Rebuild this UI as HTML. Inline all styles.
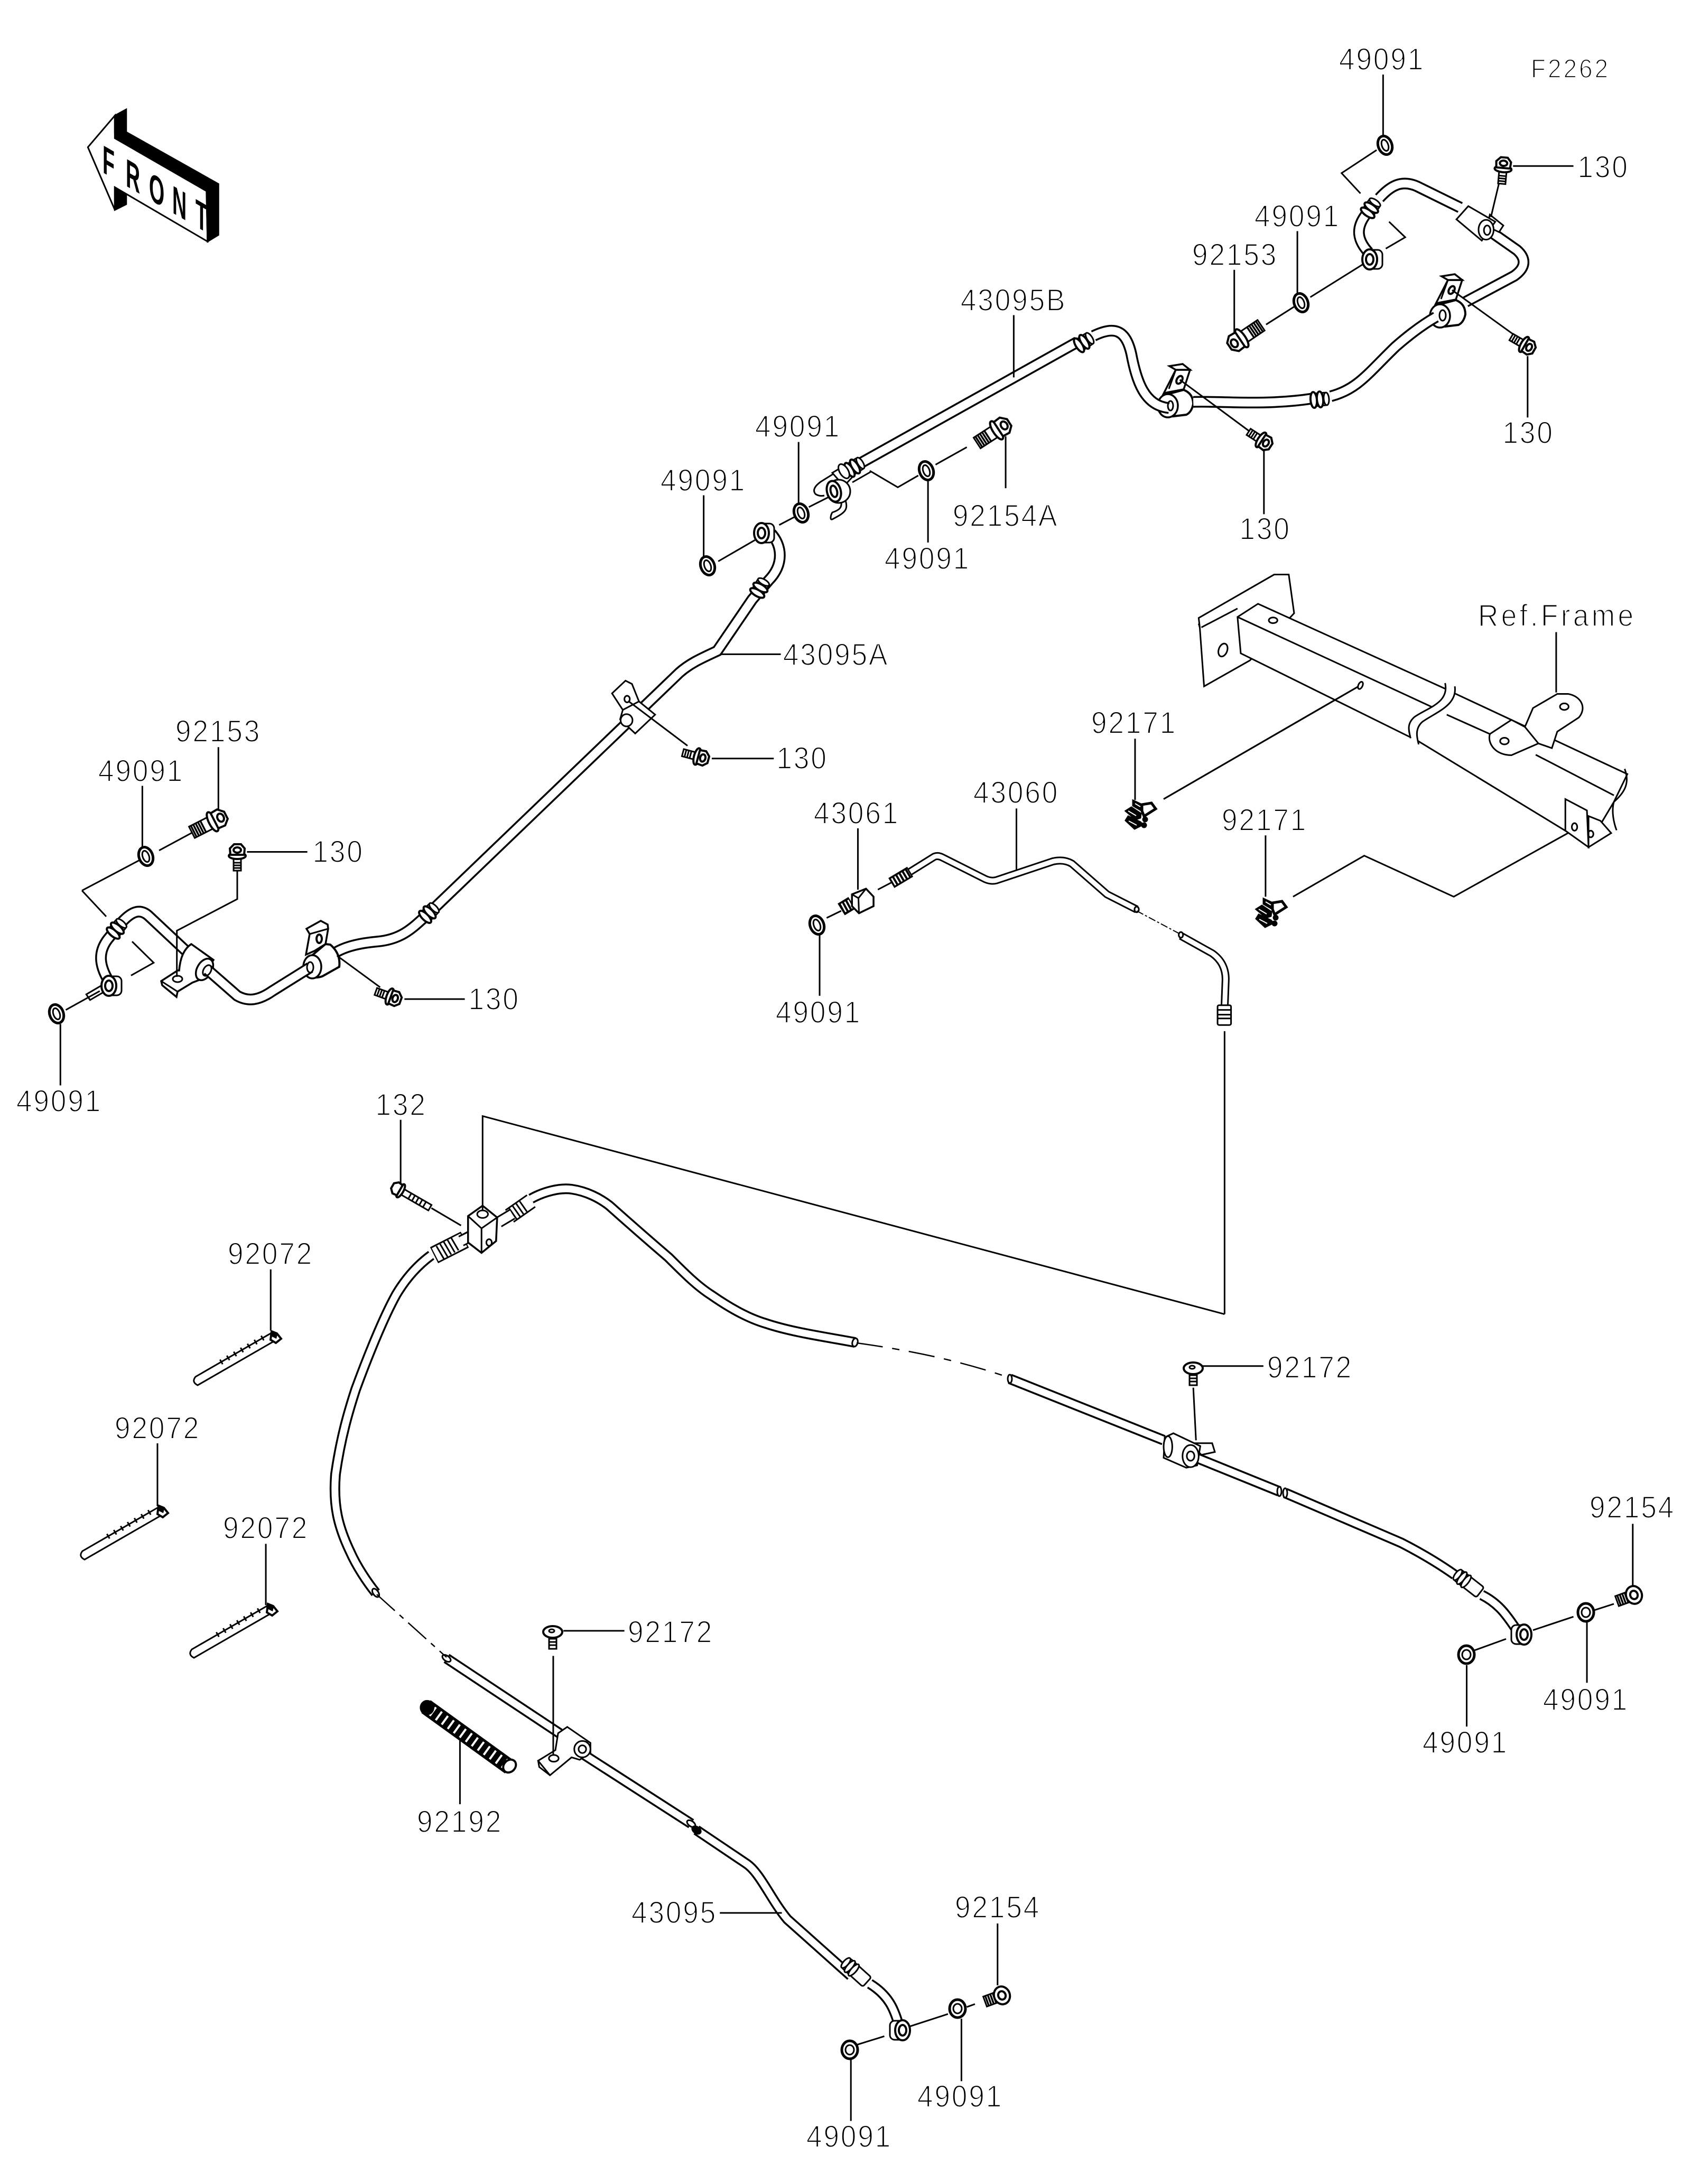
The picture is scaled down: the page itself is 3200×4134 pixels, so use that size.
<!DOCTYPE html>
<html><head><meta charset="utf-8"><style>
html,body{margin:0;padding:0;background:#fff;width:3200px;height:4134px;overflow:hidden}
svg{display:block;fill:none;stroke:#000;stroke-width:3}
path,line,ellipse,circle,polygon,rect,polyline{vector-effect:non-scaling-stroke}
use.O{stroke-width:22}use.I{stroke:#fff;stroke-width:15}
use.o{stroke-width:20}use.i{stroke:#fff;stroke-width:13}
use.s{stroke-width:15}use.j{stroke:#fff;stroke-width:9}
.w{fill:#fff}.k{fill:#000}
text{font-family:"Liberation Sans",sans-serif;font-size:58px;fill:#000;stroke:#fff;stroke-width:2px;letter-spacing:3px;text-anchor:middle}
</style></head><body>
<svg xmlns="http://www.w3.org/2000/svg" width="3200" height="4134" viewBox="0 0 3200 4134">
<defs>
<path id="tA1" d="M1430,-325 C1450,-300 1455,-260 1425,-225 L1395,-185 L1330,-76 C1300,-60 1280,-50 1260,-30 L800,475 C770,505 750,535 700,540 C670,543 640,550 620,565"/>
<path id="tA2" d="M575,595 L505,645 C480,665 460,668 440,655 L385,600"/>
<path id="tA3" d="M345,560 L275,485 C260,470 245,475 225,500 L200,535 C180,565 185,595 205,630"/>
<path id="tB1" d="M15,990 L430,725"/>
<path id="tB2" d="M460,712 C500,690 520,700 530,750 C540,810 555,860 600,865"/>
<path id="tB3" d="M645,852 C700,850 780,860 865,845 M900,840 C950,825 970,790 1020,735 C1050,705 1075,685 1095,672"/>
<path id="tB4" d="M1150,640 L1240,585 C1265,565 1260,545 1245,530 L1195,490 M1140,440 L1060,395 C1030,380 1010,395 990,420 M965,455 C945,485 950,510 970,535"/>
<path id="tL1" d="M816,2376 C790,2395 768,2420 750,2450 C725,2495 695,2570 673,2630 C660,2670 645,2720 635,2790 C630,2850 640,2890 663,2938 C675,2965 695,2995 711,3015"/>
<path id="tL2" d="M1005,2269 C1030,2255 1060,2248 1082,2251 C1110,2255 1135,2268 1153,2282 C1190,2315 1230,2350 1265,2380 C1295,2410 1320,2435 1347,2452 C1380,2475 1415,2495 1449,2505 C1500,2522 1560,2530 1618,2541"/>
<path id="tL3" d="M845,3139 L1059,3281 M1092,3313 L1308,3452"/>
<path id="tL4" d="M1318,3464 L1413,3528 C1439,3546 1459,3596 1490,3633 L1592,3724 L1610,3740 M1646,3755 C1682,3777 1692,3804 1699,3827"/>
<path id="tR" d="M1911,2610 L2202,2726 M2263,2759 L2421,2823 M2432,2826 L2651,2920 C2692,2941 2722,2959 2753,2981 M2804,3019 C2840,3037 2855,3064 2870,3085"/>
<path id="t6a" d="M120,392 L165,360 Q172,357 180,362 L260,408 Q270,413 280,410 L385,370 Q405,365 420,375 L485,440 L540,472"/>
<path id="t6b" d="M622,528 L680,565 Q705,585 705,620 L703,680"/>
<g id="wa"><ellipse class="w" rx="13" ry="18" transform="rotate(-20)" style="stroke-width:5"/><ellipse rx="6" ry="11" transform="rotate(-20)" style="stroke-width:3"/></g>
<g id="wb"><ellipse class="w" rx="15" ry="17" style="stroke-width:5"/><ellipse rx="8" ry="9"/></g>
<g id="b1"><rect class="w" x="-36" y="-7" width="24" height="14"/><path d="M-31,-7V7M-26,-7V7M-21,-7V7"/><ellipse class="w" cx="-8" rx="6" ry="16" style="stroke-width:4"/><polygon class="w" points="-6,-13 6,-14 14,-6 14,7 6,14 -6,13" style="stroke-width:4"/><ellipse cx="3" rx="5" ry="7" style="stroke-width:4"/></g>
<g id="b2"><rect class="w" x="-56" y="-12" width="40" height="24"/><path d="M-52,-12V12M-47,-12V12M-42,-12V12M-37,-12V12M-32,-12V12" style="stroke-width:3.5"/><ellipse class="w" cx="-12" rx="7" ry="20" style="stroke-width:4"/><polygon class="w" points="-8,-16 6,-17 16,-7 16,8 6,17 -8,16" style="stroke-width:4"/><ellipse cx="5" rx="6" ry="8" style="stroke-width:4"/></g>
<g id="b3"><rect class="w" x="-70" y="-6" width="62" height="12"/><path d="M-58,-6V6M-50,-6V6M-42,-6V6M-34,-6V6M-26,-6V6" style="stroke-width:3"/><ellipse class="w" cx="-6" rx="5" ry="14" style="stroke-width:4"/><polygon class="w" points="-4,-11 5,-12 12,-5 12,6 5,12 -4,11" style="stroke-width:4"/></g>
<g id="b4"><rect class="w" x="-34" y="-10" width="24" height="20"/><path d="M-30,-10V10M-25,-10V10M-20,-10V10M-15,-10V10" style="stroke-width:3.5"/><ellipse class="w" rx="15" ry="17" style="stroke-width:4"/><ellipse rx="7" ry="8" style="stroke-width:4"/></g>
<g id="sc"><rect class="w" x="-7" y="6" width="14" height="26"/><path d="M-7,13H7M-7,19H7M-7,25H7"/><ellipse class="w" rx="18" ry="11" style="stroke-width:4"/><ellipse cx="-2" cy="-2" rx="5" ry="3"/></g>
<g id="cl">
<path class="k" d="M-9,-28 L8,-20 L8,-8 L-9,-18Z M-23,-8 L-12,-15 L6,-3 L5,5 L-4,8 Z M-23,10 L-18,2 L5,13 L10,18 L-6,26Z"/>
<path stroke="#fff" d="M-5,-22 L5,-16 M-18,-8 L-3,1 M-17,11 L-2,19" style="stroke-width:2"/>
<path class="w" d="M8,-20 L26,-23 L34,-12 L12,2 L8,-8 Z" style="stroke-width:5"/>
<circle class="k" cx="14" cy="8" r="4"/><circle class="k" cx="12" cy="19" r="4"/>
</g>
<g id="fit"><rect class="w" x="-15" y="-12" width="30" height="24" rx="6"/><ellipse class="w" cx="-12" rx="6" ry="15" style="stroke-width:4"/><ellipse class="w" cx="0" rx="6" ry="15" style="stroke-width:4"/><ellipse class="w" cx="12" rx="5" ry="12"/></g>
<g id="slv"><rect class="w" x="-26" y="-12" width="54" height="24" rx="4"/><ellipse class="w" cx="-26" rx="5" ry="12"/><ellipse class="w" cx="-16" rx="5" ry="14"/><ellipse class="w" cx="-6" rx="5" ry="14"/></g>
<g id="bj"><rect class="w" x="-8" y="-18" width="26" height="36" rx="9"/><ellipse class="w" cx="-6" rx="14" ry="19" style="stroke-width:4"/><ellipse cx="-6" rx="7" ry="10" style="stroke-width:4"/></g>
<g id="tie"><path class="w" d="M-8,-6 L-150,76 Q-158,86 -146,92 L-2,9 Z"/><line x1="-22" y1="2" x2="-110" y2="53" stroke-width="10" stroke-dasharray="3 12"/><path class="w" d="M-6,-10 L4,-6 L12,4 L2,12 L-8,6 Z" style="stroke-width:4"/><path class="k" d="M-6,-10 L4,-6 L2,2 L-6,-2 Z"/></g>
<g id="cA">
<path class="w" d="M-5,-40 L22,-40 L10,-3 L-22,3 L-28,5 Z" style="stroke-width:3.5"/>
<path d="M-5,-40 L-18,-4"/>
<path class="w" d="M-17,-47 L8,-51 L22,-40 L-5,-40 Z" style="stroke-width:3.5"/>
<ellipse cx="2" cy="-21" rx="5" ry="8" transform="rotate(30 2 -21)" style="stroke-width:4"/>
<path class="w" d="M-20,6 L10,-2 Q28,5 28,25 Q25,40 15,45 L-10,48 Z" style="stroke-width:4"/>
<ellipse class="w" cx="-20" cy="28" rx="19" ry="22" style="stroke-width:3.5"/>
</g>
</defs>
<rect width="3200" height="4134" fill="#fff" stroke="none"/>

<!-- FRONT arrow -->
<g transform="scale(1.0204,.8929)">
<polygon class="w" points="163,312 213,245 213,282 383,395 385,512 213,397 213,445"/>
<polygon class="k" points="213,245 234,232 234,280 405,390 405,498 385,512 383,405 213,293"/>
<polygon class="k" points="213,397 234,412 234,433 213,445"/>
</g>
<text transform="matrix(.5,.29,0,1,194,326)" x="0 88 176 264 352" style="font-size:75px;letter-spacing:0;text-anchor:start;stroke:none;font-weight:bold">FRONT</text>

<!-- Tube A -->
<g transform="translate(0,1300) scale(1.0204,.8929)">
<use href="#tA1" class="O"/><use href="#tA1" class="I"/>
<use href="#tA3" class="O"/><use href="#tA3" class="I"/>
<path class="w" d="M1135,14 L1160,-13 L1172,-6 L1185,31 L1215,59 L1178,99 L1150,69 L1155,49Z"/><ellipse class="w" cx="1162" cy="71" rx="11" ry="13"/><ellipse cx="1163" cy="26" rx="5" ry="7"/><path d="M1155,49 L1185,31"/>
</g>
<!-- left saddle clip -->
<path class="w" d="M339,1837 Q342,1800 362,1787 L404,1817 L382,1853 L364,1860 L336,1877 L334,1887 L307,1865 L305,1857 L336,1837 Z" style="stroke-width:3.5"/>
<path d="M305,1857 L336,1877"/>
<ellipse class="w" cx="387" cy="1835" rx="14" ry="22" transform="rotate(30 387 1835)" style="stroke-width:3.5"/>
<ellipse cx="336" cy="1853" rx="9" ry="6"/>
<!-- second clip -->
<path class="w" d="M580,1758 L607,1743 L620,1750 L621,1758 L616,1787 L595,1800 L579,1807 L586,1768 Z" style="stroke-width:3.5"/>
<path d="M586,1768 L621,1758"/><ellipse cx="604" cy="1777" rx="5" ry="8" style="stroke-width:4"/>
<path class="w" d="M591,1808 L616,1787 L625,1788 Q645,1805 642,1830 L610,1848 Q590,1855 580,1840 Z" style="stroke-width:4"/>
<ellipse class="w" cx="591" cy="1830" rx="17" ry="22" style="stroke-width:3.5"/>
<g transform="translate(0,1300) scale(1.0204,.8929)">
<use href="#tA2" class="O"/><use href="#tA2" class="I"/>
<path d="M152,432 L258,368 M152,432 L197,487 M245,540 L285,585 L243,612 M295,347 L355,310 M405,128 V262 M264,210 V345 M122,685 L185,645 M112,715 V845 M625,570 L705,637 M750,662 H862 M1165,30 L1275,125 M1320,152 H1435 M743,918 V1055 M800,1105 L855,1142 M1520,525 V655 M1335,-69 H1448 M1305,-406 V-276 M1481,-519 V-388 M1332,-266 L1400,-311 M1445,-343 L1475,-361 M1500,-381 L1540,-404 M502,1235 V1365"/>
<path d="M328,615 V517 L440,450 V385 M458,350 H570"/>
<path d="M160,652 L190,632 L197,644 L167,664 Z"/>
</g>
<ellipse cx="587" cy="1831" rx="6" ry="10"/><ellipse cx="392" cy="1837" rx="7" ry="11" transform="rotate(30 392 1837)"/>

<!-- clips under tube B -->
<use href="#cA" transform="translate(2230,740)"/>
<use href="#cA" transform="translate(2745,570)"/>

<!-- Tube B and upper right -->
<g transform="translate(1600,0) scale(1.0204,.8929)">
<use href="#tB1" class="O"/><use href="#tB1" class="I"/>
<use href="#tB2" class="O"/><use href="#tB2" class="I"/>
<use href="#tB3" class="O"/><use href="#tB3" class="I"/>
<use href="#tB4" class="O"/><use href="#tB4" class="I"/>
<path class="w" d="M1195,455 L1220,478 L1212,492 L1190,480Z"/>
<path class="w" d="M1133,465 L1155,437 L1205,470 L1180,510 Z"/><ellipse class="w" cx="1188" cy="487" rx="14" ry="21"/><ellipse cx="1190" cy="488" rx="6" ry="10"/>
<!-- leaders -->
<path d="M312,668 V800 M297,925 V1035 M167,985 L225,948 M45,998 L97,1033 L135,1008 M153,1020 V1150 M721,572 V705 M780,688 L835,648 M838,490 V622 M862,630 L960,560 M997,158 V292 M985,318 L920,367 L955,410 M1008,470 L1038,503 L1002,527 M1238,352 H1350 M1212,388 L1197,460 M1265,755 V885 M1125,615 L1240,710 M776,955 V1090 M620,805 L750,915"/>
<!-- frame -->
<path class="w" d="M655,1310 L795,1218 L822,1218 L832,1300 L750,1400 L665,1455 L657,1330 Z"/>
<path d="M655,1322 L657,1330 M660,1330 L727,1290"/>
<ellipse cx="700" cy="1378" rx="8" ry="14" transform="rotate(15 700 1378)"/>
<path class="w" d="M727,1308 L765,1280 L1112,1460 L1130,1470 L1450,1641 L1425,1700 L1378,1790 L1335,1761 L1062,1571 L733,1385 Z"/>
<path d="M727,1308 L1090,1500 M1115,1515 L1195,1556 M1280,1600 L1425,1686"/>
<path class="w" d="M1112,1448 C1120,1490 1080,1500 1055,1520 C1040,1535 1045,1550 1048,1565 L1063,1578 C1060,1565 1055,1545 1070,1530 C1095,1510 1135,1495 1130,1455 Z" style="stroke:none"/>
<path d="M1112,1448 C1120,1490 1080,1500 1055,1520 C1040,1535 1045,1550 1048,1565 M1130,1455 C1135,1495 1095,1510 1070,1530 C1055,1545 1060,1565 1063,1578"/>
<path d="M1445,1630 C1455,1660 1445,1680 1425,1700 C1420,1720 1425,1745 1430,1760"/>
<ellipse cx="793" cy="1315" rx="8" ry="6"/><ellipse cx="955" cy="1453" rx="4" ry="8" transform="rotate(20 955 1453)"/>
<path d="M950,1456 L590,1694 M1318,1340 V1468"/>
<path class="w" d="M1195,1556 C1190,1576 1205,1601 1235,1601 L1285,1576 L1310,1586 L1320,1551 L1360,1521 C1375,1501 1365,1476 1340,1471 L1320,1471 L1275,1501 L1260,1541 L1235,1526 Z"/>
<path d="M1260,1541 L1285,1576"/>
<ellipse cx="1222" cy="1571" rx="8" ry="7"/><ellipse cx="1333" cy="1498" rx="8" ry="7"/>
<path class="w" d="M1378,1796 L1420,1766 L1400,1740 L1378,1730 Z"/>
<path class="w" d="M1335,1694 L1375,1718 L1378,1796 L1335,1761 Z"/>
<ellipse cx="1352" cy="1753" rx="5" ry="8"/><ellipse cx="1382" cy="1768" rx="5" ry="7"/>
</g>
<ellipse cx="2215" cy="768" rx="5" ry="9"/><ellipse cx="2730" cy="597" rx="6" ry="10"/>

<!-- 43060 area -->
<g transform="translate(1600,1300) scale(1.0204,.8929)">
<use href="#t6a" class="s"/><use href="#t6a" class="j"/>
<use href="#t6b" class="s"/><use href="#t6b" class="j"/>
<ellipse cx="540" cy="472" rx="4" ry="6"/><ellipse cx="622" cy="526" rx="4" ry="6"/>
<line x1="540" y1="475" x2="622" y2="525" stroke-dasharray="14 4 4 4" style="stroke-width:2"/>
<path d="M85,416 L120,392" style="stroke-width:22"/><path d="M88,414 L118,394" stroke="#fff" stroke-dasharray="3 4" style="stroke-width:15"/>
<rect class="w" x="690" y="675" width="25" height="42" rx="3"/><path d="M690,685 H715 M690,695 H715 M690,703 H715" style="stroke-width:3"/>
<path d="M12,458 L-8,472" style="stroke-width:26"/><path d="M10,460 L-6,470" stroke="#fff" stroke-dasharray="3 4" style="stroke-width:18"/>
<path class="w" d="M12,440 L38,428 L52,445 L52,465 L25,480 L12,465Z" style="stroke-width:3.5"/><path d="M25,480 L24,448 L38,428 M24,448 L12,440"/>
<path d="M317,258 V390 M23,300 V430 M60,430 L85,415 M-35,490 L-8,475 M537,110 V240 M779,315 V445 M590,238 L950,0 M1340,310 L1128,445 L962,358 L830,445 M703,730 V1330"/>
</g>

<!-- lower tubes -->
<use href="#tL1" class="o"/><use href="#tL1" class="i"/>
<use href="#tL2" class="o"/><use href="#tL2" class="i"/>
<use href="#tL3" class="o"/><use href="#tL3" class="i"/>
<use href="#tL4" class="o"/><use href="#tL4" class="i"/>
<use href="#tR" class="o"/><use href="#tR" class="i"/>
<g>
<ellipse cx="1618" cy="2541" rx="5" ry="8" transform="rotate(15 1618 2541)"/><ellipse cx="1911" cy="2610" rx="4" ry="8"/><ellipse cx="2421" cy="2823" rx="4" ry="9"/><ellipse cx="2432" cy="2826" rx="4" ry="9"/>
<ellipse cx="711" cy="3015" rx="5" ry="9" transform="rotate(-35 711 3015)"/><ellipse cx="845" cy="3139" rx="5" ry="9" transform="rotate(-55 845 3139)"/><ellipse cx="1308" cy="3452" rx="5" ry="9" transform="rotate(-55 1308 3452)"/><ellipse class="k" cx="1318" cy="3464" rx="6" ry="9" transform="rotate(-55 1318 3464)"/>
</g>
<!-- dashed breaks -->
<path d="M1621,2542 C1700,2553 1800,2570 1911,2608" stroke-dasharray="50 18 14 18" style="stroke-width:2.5"/>
<path d="M713,3018 L845,3137" stroke-dasharray="46 12 10 12" style="stroke-width:2.5"/>

<!-- block and leaders lower -->
<g transform="translate(0,1300) scale(1.0204,.8929)">
<path d="M805,1205 L862,1172" style="stroke-width:34"/><path d="M807,1204 L860,1173" stroke="#fff" style="stroke-width:28"/>
<path d="M815,1200 L848,1178" stroke-dasharray="3 5" style="stroke-width:28"/>
<path d="M855,1175 L885,1157" style="stroke-width:22"/><path d="M855,1175 L890,1155" stroke="#fff" style="stroke-width:16"/>
<path d="M945,1122 L985,1090" style="stroke-width:30"/><path d="M945,1122 L985,1090" stroke="#fff" style="stroke-width:24"/>
<path d="M950,1118 L975,1098" stroke-dasharray="3 5" style="stroke-width:24"/>
<path d="M925,1135 L950,1118" style="stroke-width:22"/><path d="M925,1135 L950,1118" stroke="#fff" style="stroke-width:16"/>
<path class="w" d="M868,1122 L895,1100 L922,1125 L920,1175 L893,1200 L868,1178 Z" style="stroke-width:3.5"/>
<path d="M868,1122 L893,1148 L922,1125 M893,1148 V1200"/>
<ellipse cx="895" cy="1118" rx="10" ry="8"/><ellipse cx="907" cy="1178" rx="5" ry="7"/>
<path d="M895,1110 V910 L2271,1330"/>
</g>

<g transform="translate(0,2700) scale(1.0204,.9145)">
<path class="w" d="M998,692 L1030,670 L1035,635 L1052,622 L1095,655 L1095,675 L1075,690 L1060,685 L1020,722 Z"/>
<path d="M998,692 L1000,705 L1020,722"/><ellipse class="w" cx="1080" cy="668" rx="15" ry="17"/><ellipse cx="1080" cy="668" rx="7" ry="8"/><ellipse cx="1027" cy="687" rx="9" ry="7"/>
<path d="M1026,475 V680 M1045,423 H1158 M853,650 V782 M1335,1007 H1450 M292,35 V165 M493,243 V370"/>
<!-- 92192 sleeve -->
<path d="M790,580 L945,705" style="stroke-width:30"/>
<path d="M790,580 L945,705" stroke="#fff" stroke-dasharray="4 10" style="stroke-width:20"/>
<ellipse class="w" cx="945" cy="703" rx="11" ry="14" transform="rotate(30 945 703)" style="stroke-width:4"/>
<ellipse class="k" cx="792" cy="582" rx="12" ry="14"/>
</g>

<g transform="translate(1600,2400) scale(1.0204,1.1059)">
<path class="w" d="M640,300 L680,300 L685,315 L660,320Z"/>
<path class="w" d="M592,290 L608,283 L658,305 L652,338 L632,342 L590,325 Z"/><ellipse class="w" cx="598" cy="306" rx="8" ry="18"/><ellipse class="w" cx="640" cy="322" rx="15" ry="19"/><ellipse cx="640" cy="322" rx="7" ry="8"/>
<path d="M645,205 L650,295 M660,168 H775 M1425,575 L1388,586 M1375,605 V710 M1460,438 V545 M1275,620 L1350,597 M1225,635 L1165,655 M1152,680 V785 M120,1298 L190,1277 M225,1265 L240,1260 M282,1122 V1228 M215,1285 V1392 M20,1330 L72,1315 M10,1355 V1460"/>
</g>

<!-- fittings -->
<use href="#fit" transform="translate(2052,647) rotate(-33)"/>
<use href="#fit" transform="translate(2498,756) rotate(-5)"/>
<use href="#fit" transform="translate(2595,393) rotate(-55)"/>
<use href="#fit" transform="translate(1439,1112) rotate(-60)"/>
<use href="#fit" transform="translate(813,1727) rotate(-45)"/>
<use href="#fit" transform="translate(222,1757) rotate(-50)"/>
<use href="#slv" transform="translate(2779,2997) rotate(38)"/>
<use href="#slv" transform="translate(1620,3733) rotate(42)"/>
<!-- tube B left end assembly -->
<path class="w" d="M1577,897 L1553,912 Q1535,925 1543,935 Q1550,940 1560,938" />
<path class="w" d="M1600,947 C1605,965 1600,970 1575,983 C1570,985 1572,975 1575,970 C1590,965 1593,960 1592,950 Z"/>
<path class="w" d="M1575,895 L1597,882 L1613,903 L1597,920 Z"/>
<use href="#fit" transform="translate(1618,883) rotate(-32)"/>
<ellipse class="w" cx="1597" cy="892" rx="8" ry="15" transform="rotate(-32 1597 892)"/>
<ellipse class="w" cx="1587" cy="930" rx="22" ry="22"/>
<ellipse class="w" cx="1578" cy="930" rx="13" ry="20" transform="rotate(-15 1578 930)" style="stroke-width:4"/>
<ellipse cx="1578" cy="930" rx="6" ry="11" transform="rotate(-15 1578 930)" style="stroke-width:4"/>
<path d="M1613,913 L1648,893"/>
<!-- banjos -->
<use href="#bj" transform="translate(2598,491)"/>
<use href="#bj" transform="translate(212,1866)"/>
<use href="#bj" transform="translate(1447,1009)"/>
<use href="#bj" transform="translate(2878,3094) rotate(180)"/>
<use href="#bj" transform="translate(1702,3843) rotate(180)"/>
<!-- washers -->
<use href="#wa" transform="translate(1339,1071)"/>
<use href="#wa" transform="translate(1516,971)"/>
<use href="#wa" transform="translate(2621,275)"/>
<use href="#wa" transform="translate(2462,573)"/>
<use href="#wa" transform="translate(1753,891)"/>
<use href="#wa" transform="translate(276,1621)"/>
<use href="#wa" transform="translate(107,1919)"/>
<use href="#wa" transform="translate(1546,1751)"/>
<use href="#wb" transform="translate(2775,3132)"/>
<use href="#wb" transform="translate(3001,3052)"/>
<use href="#wb" transform="translate(1812,3802)"/>
<use href="#wb" transform="translate(1608,3880)"/>
<!-- bolts -->
<use href="#b1" transform="translate(2845,312) rotate(-85)"/>
<use href="#b1" transform="translate(2891,656) rotate(30)"/>
<use href="#b1" transform="translate(2393,837) rotate(33)"/>
<use href="#b1" transform="translate(449,1612) rotate(-90)"/>
<use href="#b1" transform="translate(1327,1434) rotate(15)"/>
<use href="#b1" transform="translate(745,1889) rotate(20)"/>
<use href="#b2" transform="translate(2340,647) rotate(146)"/>
<use href="#b2" transform="translate(413,1550) rotate(-27)"/>
<use href="#b2" transform="translate(1896,808) rotate(-33)"/>
<use href="#b3" transform="translate(753,2251) rotate(210)"/>
<use href="#b4" transform="translate(3092,3019) rotate(-20)"/>
<use href="#b4" transform="translate(1896,3777) rotate(-20)"/>
<use href="#sc" transform="translate(2258,2590)"/>
<use href="#sc" transform="translate(1046,3089)"/>
<use href="#cl" transform="translate(2153,1543)"/>
<use href="#cl" transform="translate(2400,1729)"/>
<use href="#tie" transform="translate(520,2530)"/>
<use href="#tie" transform="translate(306,2860)"/>
<use href="#tie" transform="translate(513,3046)"/>

<!-- labels -->
<text transform="translate(1331,929) scale(.92,1)">49091</text>
<text transform="translate(1510,827) scale(.92,1)">49091</text>
<text transform="translate(1582,1259) scale(.92,1)">43095A</text>
<text transform="translate(2615,132) scale(.92,1)">49091</text>
<text transform="translate(2972,147) scale(.92,1)" style="font-size:50px;letter-spacing:4.3px">F2262</text>
<text transform="translate(3034,336) scale(.92,1)">130</text>
<text transform="translate(2455,429) scale(.92,1)">49091</text>
<text transform="translate(2337,502) scale(.92,1)">92153</text>
<text transform="translate(1918,588) scale(.92,1)">43095B</text>
<text transform="translate(1903,996) scale(.92,1)">92154A</text>
<text transform="translate(1755,1077) scale(.92,1)">49091</text>
<text transform="translate(2394,1021) scale(.92,1)">130</text>
<text transform="translate(2892,839) scale(.92,1)">130</text>
<text transform="translate(2944,1185) scale(.92,1)" textLength="320" style="letter-spacing:0">Ref.Frame</text>
<text transform="translate(413,1404) scale(.92,1)">92153</text>
<text transform="translate(267,1479) scale(.92,1)">49091</text>
<text transform="translate(640,1632) scale(.92,1)">130</text>
<text transform="translate(1518,1455) scale(.92,1)">130</text>
<text transform="translate(935,1911) scale(.92,1)">130</text>
<text transform="translate(112,2104) scale(.92,1)">49091</text>
<text transform="translate(759,2111) scale(.92,1)">132</text>
<text transform="translate(512,2393) scale(.92,1)">92072</text>
<text transform="translate(1621,1559) scale(.92,1)">43061</text>
<text transform="translate(1549,1936) scale(.92,1)">49091</text>
<text transform="translate(2146,1388) scale(.92,1)">92171</text>
<text transform="translate(2393,1572) scale(.92,1)">92171</text>
<text transform="translate(1923,1520) scale(.92,1)">43060</text>
<text transform="translate(2479,2608) scale(.92,1)">92172</text>
<text transform="translate(298,2723) scale(.92,1)">92072</text>
<text transform="translate(503,2912) scale(.92,1)">92072</text>
<text transform="translate(1269,3109) scale(.92,1)">92172</text>
<text transform="translate(870,3468) scale(.92,1)">92192</text>
<text transform="translate(1276,3640) scale(.92,1)">43095</text>
<text transform="translate(3089,2873) scale(.92,1)">92154</text>
<text transform="translate(3001,3237) scale(.92,1)">49091</text>
<text transform="translate(2773,3318) scale(.92,1)">49091</text>
<text transform="translate(1888,3630) scale(.92,1)">92154</text>
<text transform="translate(1817,3988) scale(.92,1)">49091</text>
<text transform="translate(1607,4064) scale(.92,1)">49091</text>
</svg>
</body></html>
